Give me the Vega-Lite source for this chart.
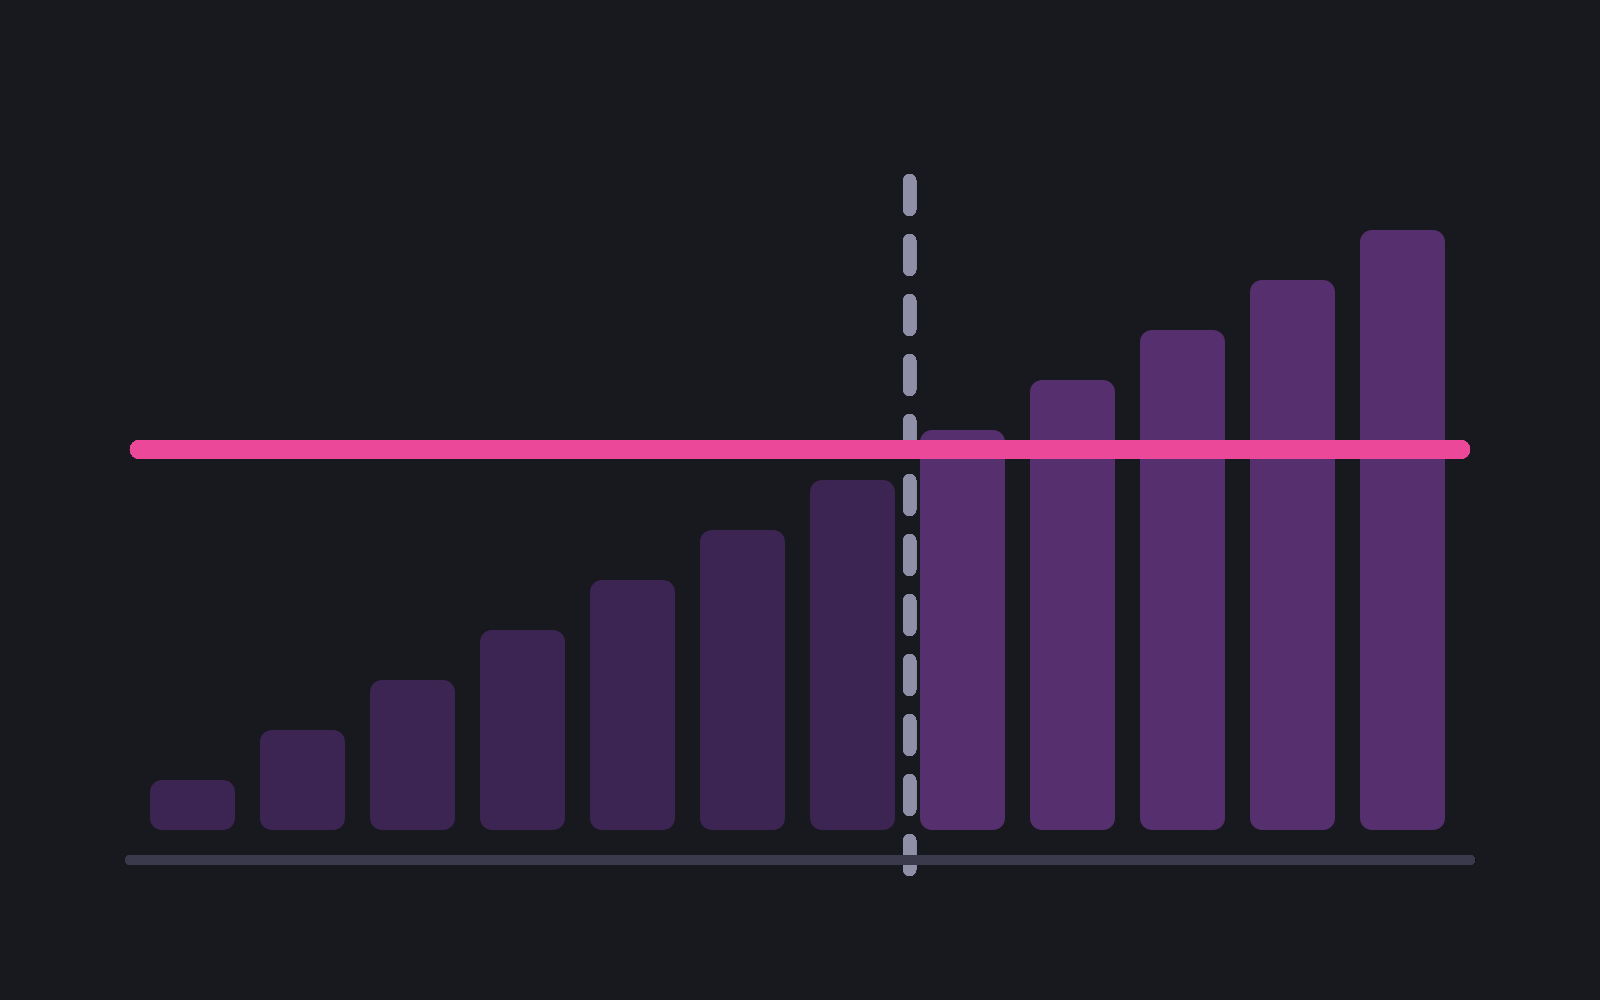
{
  "$schema": "https://vega.github.io/schema/vega-lite/v6.json",
  "autosize": {"type": "fit", "contains": "padding"},
  "width": 1600,
  "height": 1000,
  "padding": 0,
  "background": "#18181f",
  "config": {"view": {"stroke": null}},
  "data": {
    "values": [
      {"i": 1, "v": 1, "phase": "before"},
      {"i": 2, "v": 2, "phase": "before"},
      {"i": 3, "v": 3, "phase": "before"},
      {"i": 4, "v": 4, "phase": "before"},
      {"i": 5, "v": 5, "phase": "before"},
      {"i": 6, "v": 6, "phase": "before"},
      {"i": 7, "v": 7, "phase": "before"},
      {"i": 8, "v": 8, "phase": "after"},
      {"i": 9, "v": 9, "phase": "after"},
      {"i": 10, "v": 10, "phase": "after"},
      {"i": 11, "v": 11, "phase": "after"},
      {"i": 12, "v": 12, "phase": "after"}
    ]
  },
  "layer": [
    {
      "mark": {"type": "bar", "width": 85, "cornerRadius": 12},
      "encoding": {
        "x": {"field": "i", "type": "quantitative", "axis": null,
              "scale": {"domain": [-0.75, 13.7954545], "nice": false, "zero": false, "padding": 0}},
        "y": {"field": "v", "type": "quantitative", "axis": null,
              "scale": {"domain": [-3.4, 16.6], "nice": false, "zero": false, "padding": 0}},
        "y2": {"datum": 0},
        "color": {"field": "phase", "type": "nominal", "legend": null,
                  "scale": {"domain": ["before", "after"], "range": ["#3c2553", "#56306e"]}}
      }
    },
    {
      "mark": {"type": "rule", "stroke": "#8f8fa8", "strokeWidth": 13, "strokeCap": "round", "strokeDash": [29, 31]},
      "encoding": {
        "x": {"datum": 7.52, "type": "quantitative"},
        "y": {"datum": 12.99, "type": "quantitative"},
        "y2": {"datum": -0.8}
      }
    },
    {
      "mark": {"type": "rule", "stroke": "#3a3a4c", "strokeWidth": 10, "strokeCap": "round"},
      "encoding": {
        "x": {"datum": 0.432, "type": "quantitative"},
        "x2": {"datum": 12.614},
        "y": {"datum": -0.6, "type": "quantitative"}
      }
    },
    {
      "mark": {"type": "rule", "stroke": "#ec4899", "strokeWidth": 19, "strokeCap": "round"},
      "encoding": {
        "x": {"datum": 0.518, "type": "quantitative"},
        "x2": {"datum": 12.527},
        "y": {"datum": 7.61, "type": "quantitative"}
      }
    }
  ]
}
